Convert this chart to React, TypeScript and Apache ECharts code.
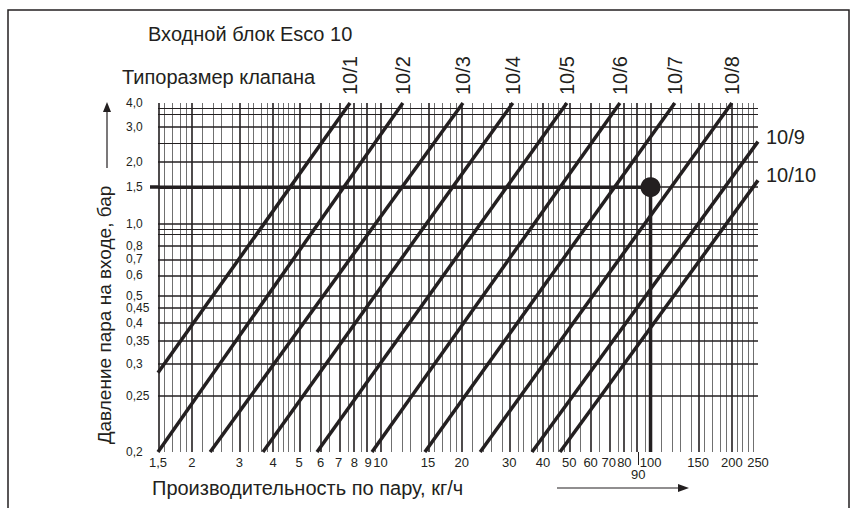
import React, { useEffect, useRef } from "react";
import * as echarts from "echarts";

const FONT = "'Liberation Sans', Arial, sans-serif";
const INK = "#231f20";
const MINOR = "#707070";

// X axis: steam flow, kg/h (logarithmic)
const xTickValues = [1.5, 2, 3, 4, 5, 6, 7, 8, 9, 10, 15, 20, 30, 40, 50, 60, 70, 80, 90, 100, 150, 200, 250];
const xTickLabels = ["1,5", "2", "3", "4", "5", "6", "7", "8", "9", "10", "15", "20", "30", "40", "50", "60", "70", "80", "90", "100", "150", "200", "250"];
const xMinorValues = [
  1.6, 1.7, 1.8, 1.9, 2.2, 2.4, 2.6, 2.8, 3.2, 3.4, 3.6, 3.8, 4.2, 4.4, 4.6, 4.8,
  5.5, 6.5, 7.5, 8.5, 9.5, 11, 12, 13, 14, 16, 17, 18, 19, 22, 24, 26, 28, 32, 34, 36, 38,
  42, 44, 46, 48, 55, 65, 75, 85, 95, 110, 120, 130, 140, 160, 170, 180, 190, 210, 220, 230, 240,
];

// Y axis: inlet steam pressure, bar
const yTickValues = [4.0, 3.0, 2.0, 1.5, 1.0, 0.8, 0.7, 0.6, 0.5, 0.45, 0.4, 0.35, 0.3, 0.25, 0.2];
const yTickLabels = ["4,0", "3,0", "2,0", "1,5", "1,0", "0,8", "0,7", "0,6", "0,5", "0,45", "0,4", "0,35", "0,3", "0,25", "0,2"];
const yMinorValues = [3.75, 3.5, 2.5, 0.95, 0.9];

// Valve size lines
const valveNames = ["10/1", "10/2", "10/3", "10/4", "10/5", "10/6", "10/7", "10/8", "10/9", "10/10"];
const valveStartFlow = [1.5, 1.5, 2.34, 3.67, 5.82, 9.3, 14.6, 23.4, 36.4, 46.2];
const valveStartPressure = [0.284, 0.2, 0.2, 0.2, 0.2, 0.2, 0.2, 0.2, 0.2, 0.2];
const valveEndFlow = [7.71, 12.1, 20.2, 30.9, 49.0, 77.0, 123, 200, 250, 250];
const valveEndPressure = [4.0, 4.0, 4.0, 4.0, 4.0, 4.0, 4.0, 4.0, 2.53, 1.62];

// Example reading
const readingFlow = 100;
const readingPressure = 1.5;

const X = (f: number) => Math.log10(f);
const P_SHIFT = 0.15;
const Y = (p: number) => Math.log(p - P_SHIFT);

function nearestIndex(arr: number[], v: number, tf: (n: number) => number) {
  let bi = 0;
  let bd = Infinity;
  arr.forEach((a, i) => {
    const d = Math.abs(tf(a) - v);
    if (d < bd) {
      bd = d;
      bi = i;
    }
  });
  return bi;
}

function bigText(text: string, x: number, y: number, size: number, extra: any = {}) {
  return {
    type: "text",
    x,
    y,
    silent: true,
    ...extra,
    style: {
      text,
      fontSize: size,
      fontFamily: FONT,
      fill: INK,
      align: extra.center ? "center" : "left",
      textAlign: extra.center ? "center" : "left",
      verticalAlign: "middle",
      textVerticalAlign: "middle",
    },
  };
}

export default function App() {
  const ref = useRef<HTMLDivElement>(null);
  useEffect(() => {
    if (!ref.current) return;
    const chart = echarts.init(ref.current, null, { renderer: "svg" });

    const gridLines: any[] = [
      ...xMinorValues.map((v) => ({ xAxis: X(v), lineStyle: { color: MINOR, width: 1, type: "solid" } })),
      ...yMinorValues.map((v) => ({ yAxis: Y(v), lineStyle: { color: INK, width: 1.1, type: "solid" } })),
      ...xTickValues.map((v) => ({ xAxis: X(v), lineStyle: { color: INK, width: 1.6, type: "solid" } })),
      ...yTickValues.map((v) => ({ yAxis: Y(v), lineStyle: { color: INK, width: 1.5, type: "solid" } })),
    ];

    const valveSeries = valveNames.map((name, i) => {
      const isTop = valveEndPressure[i] >= 4.0;
      return {
        type: "line",
        name,
        z: 10,
        silent: true,
        symbol: "none",
        lineStyle: { color: INK, width: 3.5 },
        data: [
          [X(valveStartFlow[i]), Y(valveStartPressure[i])],
          [X(valveEndFlow[i]), Y(valveEndPressure[i])],
        ],
        markPoint: {
          symbol: "circle",
          symbolSize: 0,
          silent: true,
          z: 10,
          data: [
            {
              coord: [X(valveEndFlow[i]), Y(valveEndPressure[i])],
              label: isTop
                ? {
                    show: true,
                    formatter: name,
                    position: "top",
                    distance: 8,
                    rotate: 90,
                    align: "left",
                    verticalAlign: "middle",
                    fontSize: 20,
                    fontFamily: FONT,
                    color: INK,
                  }
                : {
                    show: true,
                    formatter: name,
                    position: "right",
                    distance: 8,
                    offset: [0, -5],
                    fontSize: 20,
                    fontFamily: FONT,
                    color: INK,
                  },
            },
          ],
        },
      };
    });

    const option: any = {
      animation: false,
      textStyle: { fontFamily: FONT },
      grid: { left: 158, right: 101, top: 103, bottom: 56, containLabel: false },
      xAxis: {
        type: "value",
        min: X(1.5),
        max: X(250),
        splitLine: { show: false },
        axisLine: { show: false, onZero: false },
        axisTick: {
          show: true,
          customValues: [X(90)],
          length: 13,
          lineStyle: { color: INK, width: 1 },
        },
        axisLabel: {
          customValues: xTickValues.map(X),
          formatter: (v: number) => {
            const i = nearestIndex(xTickValues, v, X);
            return xTickValues[i] === 90 ? "\n" + xTickLabels[i] : xTickLabels[i];
          },
          margin: 4,
          fontSize: 13,
          lineHeight: 12,
          color: INK,
          fontFamily: FONT,
        },
      },
      yAxis: {
        type: "value",
        min: Y(0.2),
        max: Y(4.0),
        splitLine: { show: false },
        axisLine: { show: false, onZero: false },
        axisTick: {
          show: true,
          customValues: [Y(readingPressure)],
          length: 8,
          lineStyle: { color: INK, width: 3.5 },
        },
        axisLabel: {
          customValues: yTickValues.map(Y),
          formatter: (v: number) => yTickLabels[nearestIndex(yTickValues, v, Y)],
          align: "left",
          margin: 32,
          fontSize: 12,
          color: INK,
          fontFamily: FONT,
        },
      },
      series: [
        {
          type: "line",
          z: 1,
          silent: true,
          data: [],
          markLine: {
            silent: true,
            z: 1,
            symbol: ["none", "none"],
            label: { show: false },
            emphasis: { disabled: true },
            data: gridLines,
          },
        },
        ...valveSeries,
        {
          type: "line",
          z: 12,
          silent: true,
          symbol: "none",
          lineStyle: { color: INK, width: 3.5 },
          data: [
            [X(valveStartFlow[0]), Y(readingPressure)],
            [X(readingFlow), Y(readingPressure)],
            [X(readingFlow), Y(0.2)],
          ],
        },
        {
          type: "scatter",
          z: 13,
          silent: true,
          symbol: "circle",
          symbolSize: 20,
          itemStyle: { color: INK, opacity: 1 },
          data: [[X(readingFlow), Y(readingPressure)]],
        },
      ],
      graphic: [
        {
          type: "rect",
          shape: { x: 8, y: 10, width: 841, height: 520 },
          style: { fill: "none", stroke: INK, lineWidth: 1.5 },
          silent: true,
        },
        bigText("Входной блок Esco 10", 148, 34, 20),
        bigText("Типоразмер клапана", 122, 77, 20),
        bigText("Давление пара на входе, бар", 104, 315, 19, { rotation: Math.PI / 2, center: true }),
        bigText("Производительность по пару, кг/ч", 152, 488, 20),
        {
          type: "line",
          silent: true,
          shape: { x1: 107, y1: 168, x2: 107, y2: 110 },
          style: { stroke: INK, lineWidth: 1.2 },
        },
        {
          type: "polygon",
          silent: true,
          shape: { points: [[103, 112], [111, 112], [107, 102]] },
          style: { fill: INK },
        },
        {
          type: "line",
          silent: true,
          shape: { x1: 557, y1: 488, x2: 680, y2: 488 },
          style: { stroke: INK, lineWidth: 1.2 },
        },
        {
          type: "polygon",
          silent: true,
          shape: { points: [[678, 484], [678, 492], [689, 488]] },
          style: { fill: INK },
        },
      ],
    };

    chart.setOption(option);
    return () => chart.dispose();
  }, []);

  return (
    <div
      ref={ref}
      style={{ position: "fixed", left: 0, top: 0, width: 859, height: 508, background: "#fff" }}
    />
  );
}
